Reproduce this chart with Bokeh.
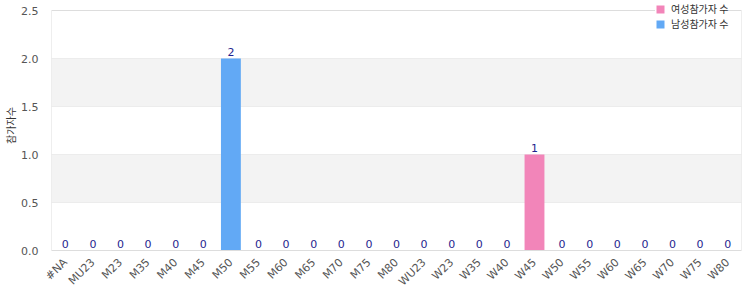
from bokeh.plotting import figure
from bokeh.models import (FactorRange, Legend, LegendItem, ColumnDataSource,
                          SingleIntervalTicker, PrintfTickFormatter, BoxAnnotation)
from bokeh.core.properties import value
from bokeh.embed import file_html
from bokeh.resources import INLINE

categories = ["#NA", "MU23", "M23", "M35", "M40", "M45", "M50", "M55", "M60", "M65",
              "M70", "M75", "M80", "WU23", "W23", "W35", "W40", "W45", "W50", "W55",
              "W60", "W65", "W70", "W75", "W80"]
female = [0, 0, 0, 0, 0, 0, 0, 0, 0, 0, 0, 0, 0, 0, 0, 0, 0, 1, 0, 0, 0, 0, 0, 0, 0]
male = [0, 0, 0, 0, 0, 0, 2, 0, 0, 0, 0, 0, 0, 0, 0, 0, 0, 0, 0, 0, 0, 0, 0, 0, 0]
series_names = ["여성참가자 수", "남성참가자 수"]
series_colors = ["#f285b9", "#62a9f5"]
y_label = "참가자수"
y_max = 2.5
y_step = 0.5

totals = [f + m for f, m in zip(female, male)]
src = ColumnDataSource(dict(cat=categories, female=female, male=male,
                            total=totals, lab=[str(t) for t in totals]))

FONT = "DejaVu Sans"
FRAME_H = 250
PLOT_H = 240  # height of the value area; 10px above it are kept for the legend
p = figure(frame_width=690, frame_height=FRAME_H,
           x_range=FactorRange(*categories, range_padding=0),
           y_range=(0, y_max * FRAME_H / PLOT_H), output_backend="svg", toolbar_location=None,
           min_border_left=50, min_border_right=10, min_border_top=0, min_border_bottom=10)

# alternating grey bands (every second interval between ticks)
k = 1
while (k + 1) * y_step <= y_max + 1e-9:
    p.add_layout(BoxAnnotation(bottom=k * y_step, top=(k + 1) * y_step,
                               fill_color="#f3f3f3", fill_alpha=1.0,
                               line_color=None, level="underlay"))
    k += 2

rs = p.vbar_stack(["female", "male"], x="cat", width=0.72, source=src,
                  color=series_colors, line_color=None)

p.text(x="cat", y="total", text="lab", source=src, text_align="center",
       text_baseline="bottom", y_offset=-3, text_color="#1f1f8f",
       text_font=value(FONT), text_font_size="11px")

# frame border (top, left, right) around the value area
n = len(categories)
p.segment(x0=[0, 0, n], y0=[y_max, 0, 0], x1=[n, 0, n], y1=[y_max, y_max, y_max],
          line_color="#dddddd", line_width=1)

p.outline_line_color = None
p.xgrid.grid_line_color = None
p.ygrid.grid_line_color = "#e4e4e4"
p.ygrid.band_fill_color = None

p.yaxis.ticker = SingleIntervalTicker(interval=y_step)
p.yaxis.formatter = PrintfTickFormatter(format="%.1f")
p.yaxis.axis_line_color = None
p.yaxis.major_tick_line_color = None
p.yaxis.minor_tick_line_color = None
p.yaxis.major_label_text_font = FONT
p.yaxis.major_label_text_font_size = "11px"
p.yaxis.major_label_text_color = "#555555"
p.yaxis.major_label_standoff = 7
p.yaxis.axis_label = y_label
p.yaxis.axis_label_text_font = "Noto Sans CJK KR"
p.yaxis.axis_label_text_font_style = "normal"
p.yaxis.axis_label_text_font_size = "10px"
p.yaxis.axis_label_text_color = "#333333"
p.yaxis.axis_label_standoff = 0

p.xaxis.axis_line_color = "#dddddd"
p.xaxis.major_tick_line_color = None
p.xaxis.major_label_orientation = 0.785
p.xaxis.major_label_text_font = FONT
p.xaxis.major_label_text_font_size = "11px"
p.xaxis.major_label_text_color = "#555555"
p.xaxis.major_label_standoff = 4

legend = Legend(items=[LegendItem(label=series_names[0], renderers=[rs[0]]),
                       LegendItem(label=series_names[1], renderers=[rs[1]])],
                location=(604, 219), orientation="vertical",
                label_text_font="Noto Sans CJK KR", label_text_font_size="10px",
                label_text_color="#333333", glyph_width=10, glyph_height=10,
                label_height=14, label_standoff=6, padding=1, spacing=0, margin=0,
                border_line_color=None, background_fill_color="white", background_fill_alpha=1)
p.add_layout(legend, "center")

open("out.html", "w").write(file_html(p, INLINE))
